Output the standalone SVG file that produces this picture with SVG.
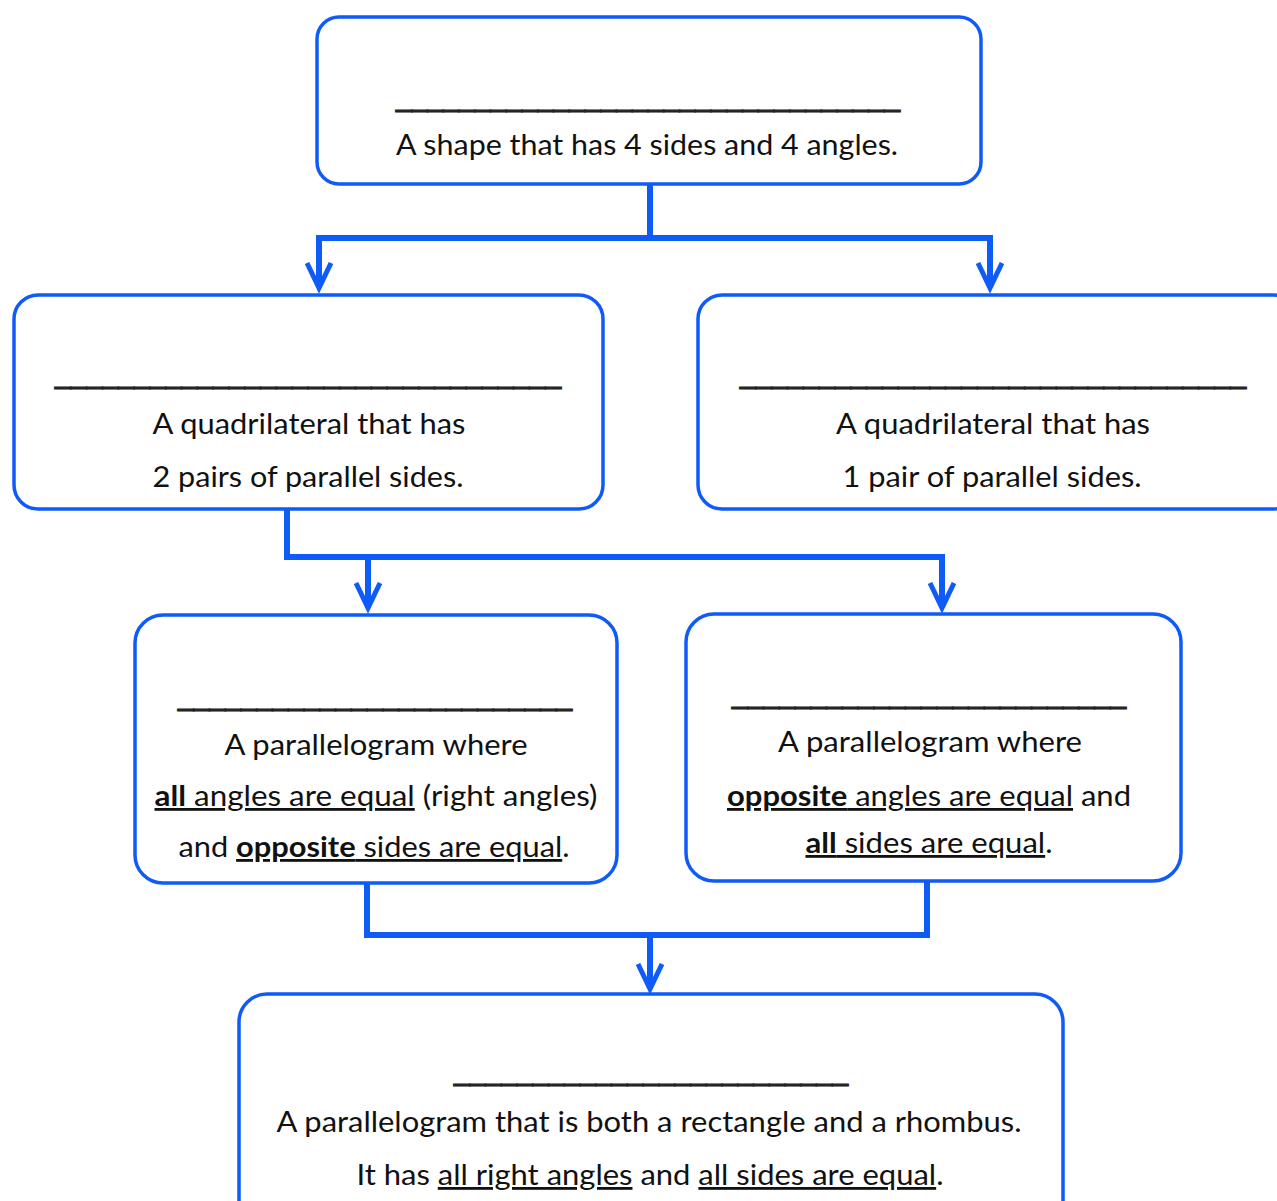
<svg xmlns="http://www.w3.org/2000/svg" width="1277" height="1201" viewBox="0 0 1277 1201">
<style>
.box{fill:#fff;stroke:#0f5bf7;stroke-width:3.5}
.con{fill:none;stroke:#0f5bf7;stroke-width:6;stroke-linejoin:miter}
.ah{fill:none;stroke:#0f5bf7;stroke-width:5;stroke-linejoin:miter;stroke-linecap:butt}
text{font-family:Lato,"Open Sans",sans-serif;font-size:28px;fill:#111;text-anchor:middle}
text.blank{font-family:"Liberation Sans",Arial,sans-serif;fill:#222;stroke:#222;stroke-width:1.2}
.b{font-weight:bold}
.u{text-decoration:underline}
</style>
<rect width="1277" height="1201" fill="#fff"/>
<g id="connectors">
<path class="con" d="M650,184 V238 H319 V286 M650,238 H990 V286"/>
<path class="ah" d="M307,263 L319,288 L331,263 M978,263 L990,288 L1002,263"/>
<path class="con" d="M287,509 V557 H368 V606 M368,557 H942 V606"/>
<path class="ah" d="M356,583 L368,608 L380,583 M930,583 L942,608 L954,583"/>
<path class="con" d="M367,883 V935 H927 V881 M650,935 V987"/>
<path class="ah" d="M638,964 L650,989 L662,964"/>
</g>
<g id="quadrilateral">
<rect class="box" x="317" y="17" width="664" height="167" rx="22"/>
<text class="blank" x="648" y="106" textLength="504" lengthAdjust="spacingAndGlyphs">________________________________</text>
<text x="647" y="155" textLength="502" lengthAdjust="spacingAndGlyphs">A shape that has 4 sides and 4 angles.</text>
</g>
<g id="parallelogram">
<rect class="box" x="14" y="295" width="589" height="214" rx="24"/>
<text class="blank" x="308" y="383" textLength="506" lengthAdjust="spacingAndGlyphs">________________________________</text>
<text x="309" y="434" textLength="313" lengthAdjust="spacingAndGlyphs">A quadrilateral that has</text>
<text x="308" y="487" textLength="311" lengthAdjust="spacingAndGlyphs">2 pairs of parallel sides.</text>
</g>
<g id="trapezoid">
<rect class="box" x="698" y="295" width="600" height="214" rx="24"/>
<text class="blank" x="993" y="383" textLength="506" lengthAdjust="spacingAndGlyphs">________________________________</text>
<text x="993" y="434" textLength="314" lengthAdjust="spacingAndGlyphs">A quadrilateral that has</text>
<text x="992" y="487" textLength="299" lengthAdjust="spacingAndGlyphs">1 pair of parallel sides.</text>
</g>
<g id="rectangle">
<rect class="box" x="135" y="615" width="482" height="268" rx="28"/>
<text class="blank" x="375" y="705" textLength="394" lengthAdjust="spacingAndGlyphs">_________________________</text>
<text x="376" y="755" textLength="303" lengthAdjust="spacingAndGlyphs">A parallelogram where</text>
<text x="376" y="806" textLength="443" lengthAdjust="spacingAndGlyphs"><tspan class="u"><tspan class="b">all</tspan> angles are equal</tspan> (right angles)</text>
<text x="374" y="857" textLength="391" lengthAdjust="spacingAndGlyphs">and <tspan class="u"><tspan class="b">opposite</tspan> sides are equal</tspan>.</text>
</g>
<g id="rhombus">
<rect class="box" x="686" y="614" width="495" height="267" rx="28"/>
<text class="blank" x="929" y="703" textLength="394" lengthAdjust="spacingAndGlyphs">_________________________</text>
<text x="930" y="752" textLength="304" lengthAdjust="spacingAndGlyphs">A parallelogram where</text>
<text x="929" y="806" textLength="404" lengthAdjust="spacingAndGlyphs"><tspan class="u"><tspan class="b">opposite</tspan> angles are equal</tspan> and</text>
<text x="929" y="853" textLength="247" lengthAdjust="spacingAndGlyphs"><tspan class="u"><tspan class="b">all</tspan> sides are equal</tspan>.</text>
</g>
<g id="square">
<rect class="box" x="239" y="994" width="824" height="240" rx="28"/>
<text class="blank" x="651" y="1080" textLength="394" lengthAdjust="spacingAndGlyphs">_________________________</text>
<text x="649" y="1132" textLength="745" lengthAdjust="spacingAndGlyphs">A parallelogram that is both a rectangle and a rhombus.</text>
<text x="650" y="1185" textLength="587" lengthAdjust="spacingAndGlyphs">It has <tspan class="u">all right angles</tspan> and <tspan class="u">all sides are equal</tspan>.</text>
</g>
</svg>
